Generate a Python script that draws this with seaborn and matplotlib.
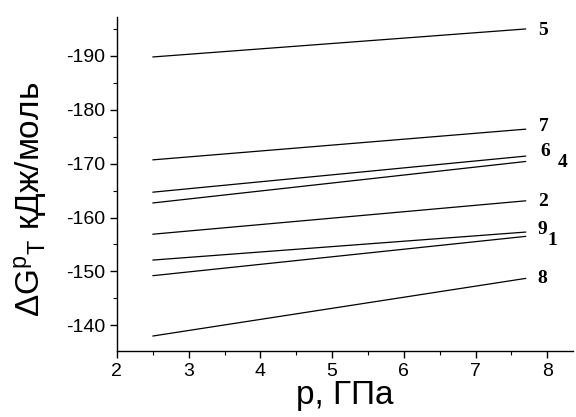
import pandas as pd
import seaborn as sns
import matplotlib.pyplot as plt
from matplotlib.ticker import MultipleLocator

# curve number, value at p=2.5 GPa, value at p=7.7 GPa
curves = ["5", "7", "6", "4", "2", "9", "1", "8"]
p_vals = [2.5, 7.7]
g_start = [-189.8, -170.7, -164.7, -162.7, -156.9, -152.1, -149.2, -138.0]
g_end = [-195.0, -176.4, -171.4, -170.4, -163.1, -157.3, -156.5, -148.7]

# label positions next to line ends
label_x = [7.94, 7.95, 7.97, 8.21, 7.94, 7.93, 8.07, 7.93]
label_y = [-194.8, -176.8, -172.3, -170.3, -163.0, -157.7, -155.8, -148.6]

rows = []
for c, g0, g1 in zip(curves, g_start, g_end):
    rows.append({"curve": c, "p": p_vals[0], "G": g0})
    rows.append({"curve": c, "p": p_vals[1], "G": g1})
df = pd.DataFrame(rows)

sns.set_style("ticks", {"axes.edgecolor": "black", "text.color": "black",
                        "axes.labelcolor": "black", "xtick.color": "black",
                        "ytick.color": "black"})
plt.rcParams["font.family"] = ["Liberation Sans", "DejaVu Sans"]
plt.rcParams["mathtext.fontset"] = "custom"
plt.rcParams["mathtext.rm"] = "Liberation Sans"
plt.rcParams["mathtext.it"] = "Liberation Sans"
plt.rcParams["mathtext.default"] = "regular"

fig = plt.figure(figsize=(5.76, 4.17), dpi=100)
ax = fig.add_axes([0.203, 0.158, 0.792, 0.801])

sns.lineplot(
    data=df,
    x="p",
    y="G",
    hue="curve",
    palette=["black"] * len(curves),
    legend=False,
    lw=0.9,
    ax=ax,
)

for c, lx, ly in zip(curves, label_x, label_y):
    ax.text(lx, ly, c, family="Liberation Serif", fontweight="bold",
            fontsize=14, ha="center", va="center", color="black")

ax.set_xlim(2, 8.36)
ax.set_ylim(-135.2, -197.2)
ax.xaxis.set_major_locator(MultipleLocator(1))
ax.xaxis.set_minor_locator(MultipleLocator(0.5))
ax.yaxis.set_minor_locator(MultipleLocator(5))
ax.set_yticks([-190, -180, -170, -160, -150, -140])
ax.set_yticklabels(["-190", "-180", "-170", "-160", "-150", "-140"])
ax.tick_params(which="major", direction="out", length=5, width=1, labelsize=14,
               colors="black")
ax.tick_params(which="minor", direction="out", length=3, width=0.8, colors="black")

sns.despine(ax=ax)
for s in ["left", "bottom"]:
    ax.spines[s].set_linewidth(1.0)
    ax.spines[s].set_color("black")

ax.set_xlabel("p, ГПа", fontsize=24, labelpad=0, color="black")
ax.set_ylabel(r"$\Delta G^{p}{}_{T}$ кДж/моль", fontsize=24, color="black")
ax.yaxis.set_label_coords(-0.148, 0.455)

fig.savefig("out.png", dpi=100)
